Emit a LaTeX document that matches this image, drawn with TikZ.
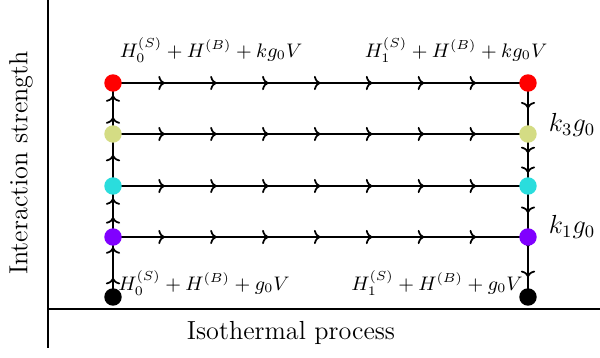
\documentclass[tikz,border=0pt]{standalone}
\usetikzlibrary{decorations.markings,arrows.meta}
\definecolor{cpurple}{HTML}{8000FF}
\definecolor{ccyan}{HTML}{2ADDDD}
\definecolor{cyellow}{HTML}{D4DC84}
\definecolor{cred}{HTML}{FF0000}
\newcommand{\arr}{\arrow{To[length=3pt,width=6.5pt]}}
\tikzset{
  dot/.style={circle,fill=#1,inner sep=0pt,minimum size=8pt},
  axis/.style={line width=0.8pt},
  conn/.style={line width=0.8pt},
  harrows/.style={conn,postaction={decorate},decoration={markings,
      mark=between positions 0.125 and 0.9 step 0.125 with {\arr}}},
  marks/.style={conn,postaction={decorate},decoration={markings,#1}},
  eq/.style={font=\small},
}
\begin{document}
\begin{tikzpicture}[x=0.4587pt,y=-0.4587pt]
\useasboundingbox (0,0) rectangle (600,358);
% axes
\coordinate (yt) at (48,0);
\coordinate (yb) at (48,348);
\coordinate (xl) at (48,309);
\coordinate (xr) at (600,309);
\draw[axis] (yt) -- (yb);
\draw[axis] (xl) -- (xr);
% points
\coordinate (L1) at (113,297);
\coordinate (L2) at (113,237);
\coordinate (L3) at (113,186);
\coordinate (L4) at (113,134);
\coordinate (L5) at (113,83);
\coordinate (R1) at (528,297);
\coordinate (R2) at (528,237);
\coordinate (R3) at (528,186);
\coordinate (R4) at (528,134);
\coordinate (R5) at (528,83);
% horizontal lines
\foreach \i in {2,3,4,5} {\draw[harrows] (L\i) -- (R\i);}
% left vertical (upwards)
\draw[marks={mark=at position 0.32 with {\arr},mark=at position 0.83 with {\arr}}] (L1) -- (L2);
\draw[marks={mark=at position 0.39 with {\arr},mark=at position 0.76 with {\arr}}] (L2) -- (L3);
\draw[marks={mark=at position 0.6 with {\arr}}] (L3) -- (L4);
\draw[marks={mark=at position 0.33 with {\arr},mark=at position 0.76 with {\arr}}] (L4) -- (L5);
% right vertical (downwards)
\draw[marks={mark=at position 0.5 with {\arr}}] (R5) -- (R4);
\draw[marks={mark=at position 0.37 with {\arr},mark=at position 0.75 with {\arr}}] (R4) -- (R3);
\draw[marks={mark=at position 0.53 with {\arr}}] (R3) -- (R2);
\draw[marks={mark=at position 0.17 with {\arr},mark=at position 0.67 with {\arr}}] (R2) -- (R1);
% dots
\node[dot=black] (a1) at (L1) {};
\node[dot=cpurple] (a2) at (L2) {};
\node[dot=ccyan] (a3) at (L3) {};
\node[dot=cyellow] (a4) at (L4) {};
\node[dot=cred] (a5) at (L5) {};
\node[dot=black] (b1) at (R1) {};
\node[dot=cpurple] (b2) at (R2) {};
\node[dot=ccyan] (b3) at (R3) {};
\node[dot=cyellow] (b4) at (R4) {};
\node[dot=cred] (b5) at (R5) {};
% labels
\node[eq] (tl) at (211,50) {$H_0^{(S)}+H^{(B)}+kg_0V$};
\node[eq] (tr) at (456,50) {$H_1^{(S)}+H^{(B)}+kg_0V$};
\node[eq] (bl) at (204,283) {$H_0^{(S)}+H^{(B)}+g_0V$};
\node[eq] (br) at (437,283) {$H_1^{(S)}+H^{(B)}+g_0V$};
\node[font=\large] (k3) at (572,125) {$k_3g_0$};
\node[font=\large] (k1) at (572,227) {$k_1g_0$};
\node[font=\large,rotate=90] (ylab) at (21,163) {Interaction strength};
\node[font=\large] (xlab) at (291,333) {Isothermal process};
\end{tikzpicture}
\end{document}
